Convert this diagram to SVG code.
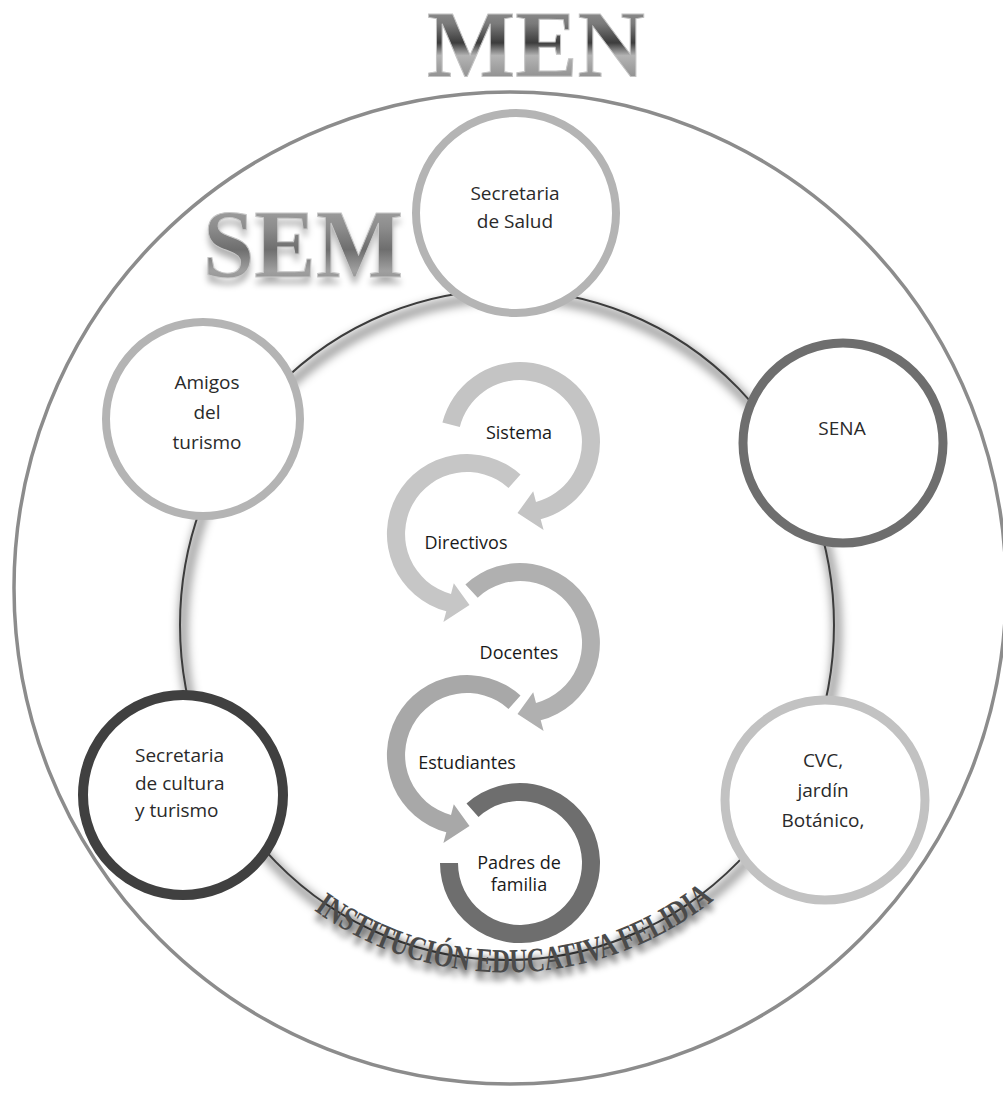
<svg xmlns="http://www.w3.org/2000/svg" width="1003" height="1093" viewBox="0 0 1003 1093">
<defs>
  <linearGradient id="metal" x1="0" y1="0" x2="0" y2="1">
    <stop offset="0" stop-color="#a8a8a8"/>
    <stop offset="0.3" stop-color="#7a7a7a"/>
    <stop offset="0.48" stop-color="#3c3c3c"/>
    <stop offset="0.6" stop-color="#b4b4b4"/>
    <stop offset="0.85" stop-color="#8a8a8a"/>
    <stop offset="1" stop-color="#6a6a6a"/>
  </linearGradient>
  <linearGradient id="metal2" x1="0" y1="0" x2="0" y2="1">
    <stop offset="0" stop-color="#b0b0b0"/>
    <stop offset="0.35" stop-color="#8c8c8c"/>
    <stop offset="0.55" stop-color="#6e6e6e"/>
    <stop offset="0.75" stop-color="#a0a0a0"/>
    <stop offset="1" stop-color="#7a7a7a"/>
  </linearGradient>
  <filter id="soft" x="-20%" y="-20%" width="140%" height="140%"><feGaussianBlur stdDeviation="5"/></filter>
  <filter id="soft3" x="-20%" y="-50%" width="140%" height="200%"><feGaussianBlur stdDeviation="3"/></filter>
  <path id="instPath" d="M 214.6 799.0 A 337 345 0 0 0 799.4 799.0"/>
</defs>
<style>
  .node circle { fill: #ffffff; }
  .lbl { font-family: 'Open Sans', 'Noto Sans', sans-serif; font-size: 19px; fill: #2a2a2a; text-anchor: middle; }
  .lbl.left { text-anchor: start; }
  .albl { font-family: 'Open Sans', 'Noto Sans', sans-serif; font-size: 18px; fill: #1a1a1a; text-anchor: middle; }
  .big { font-family: 'Liberation Serif', 'Times New Roman', serif; font-weight: bold; }
</style>
<rect width="1003" height="1093" fill="#ffffff"/>

<g id="men">
  <circle cx="510" cy="588" r="496" fill="none" stroke="#8c8c8c" stroke-width="3.5"/>
  <text class="big" x="536" y="77" font-size="95" text-anchor="middle" textLength="218" lengthAdjust="spacingAndGlyphs" fill="url(#metal)" stroke="#c4c4c4" stroke-width="1">MEN</text>
</g>

<g id="connectors">
  <ellipse cx="510" cy="632" rx="327" ry="335" fill="none" stroke="#000" stroke-opacity="0.4" stroke-width="9" filter="url(#soft)"/>
  <ellipse cx="507" cy="625" rx="327" ry="335" fill="none" stroke="#3c3c3c" stroke-width="2"/>
</g>

<g id="sem">
  <text class="big" x="203" y="284" font-size="98" textLength="200" lengthAdjust="spacingAndGlyphs" fill="#000" fill-opacity="0.3" filter="url(#soft3)">SEM</text>
  <text class="big" x="203" y="277" font-size="98" textLength="200" lengthAdjust="spacingAndGlyphs" fill="url(#metal2)" stroke="#c8c8c8" stroke-width="1">SEM</text>
</g>

<g id="institucion">
  <text class="big" font-size="34" fill="#000" fill-opacity="0.6" filter="url(#soft3)" transform="translate(0,8)"><textPath href="#instPath" startOffset="150" textLength="430" lengthAdjust="spacingAndGlyphs">INSTITUCIÓN EDUCATIVA FELIDIA</textPath></text>
  <text class="big" font-size="34" fill="#4a4a4a"><textPath href="#instPath" startOffset="150" textLength="430" lengthAdjust="spacingAndGlyphs">INSTITUCIÓN EDUCATIVA FELIDIA</textPath></text>
</g>

<g id="salud" class="node">
  <circle cx="516" cy="213" r="100" stroke="#b4b4b4" stroke-width="8"/>
  <text class="lbl" x="515" y="200">Secretaria</text>
  <text class="lbl" x="515" y="228">de Salud</text>
</g>

<g id="amigos" class="node">
  <circle cx="203" cy="419" r="97" stroke="#b4b4b4" stroke-width="8"/>
  <text class="lbl" x="207" y="389">Amigos</text>
  <text class="lbl" x="207" y="419">del</text>
  <text class="lbl" x="207" y="449">turismo</text>
</g>

<g id="sena" class="node">
  <circle cx="843" cy="443" r="100" stroke="#6e6e6e" stroke-width="9"/>
  <text class="lbl" x="842" y="435">SENA</text>
</g>

<g id="cultura" class="node">
  <circle cx="183" cy="795" r="100" stroke="#404040" stroke-width="10"/>
  <text class="lbl left" x="135" y="762">Secretaria</text>
  <text class="lbl left" x="135" y="790">de cultura</text>
  <text class="lbl left" x="135" y="817">y turismo</text>
</g>

<g id="cvc" class="node">
  <circle cx="825" cy="800" r="100" stroke="#c2c2c2" stroke-width="9"/>
  <text class="lbl" x="823" y="767">CVC,</text>
  <text class="lbl" x="823" y="797">jardín</text>
  <text class="lbl" x="823" y="827">Botánico,</text>
</g>

<g id="sistema">
  <path d="M 442.4 422.6 A 80 80 0 1 1 540.7 519.3 L 543.6 529.9 L 517.5 513.0 L 533.2 491.3 L 536.0 501.9 A 62 62 0 1 0 459.8 427.0 Z" fill="#c4c4c4"/>
  <text class="albl" x="519" y="438.5">Sistema</text>
</g>

<g id="directivos">
  <path d="M 520.5 474.6 A 80 80 0 1 0 446.3 611.3 L 443.4 621.9 L 469.5 605.0 L 453.8 583.3 L 451.0 593.9 A 62 62 0 1 1 508.5 487.9 Z" fill="#c6c6c6"/>
  <text class="albl" x="466" y="548.5">Directivos</text>
</g>

<g id="docentes">
  <path d="M 465.4 584.5 A 80 80 0 1 1 540.7 720.3 L 543.6 730.9 L 517.5 714.0 L 533.2 692.3 L 536.0 702.9 A 62 62 0 1 0 477.7 597.7 Z" fill="#b0b0b0"/>
  <text class="albl" x="519" y="658.5">Docentes</text>
</g>

<g id="estudiantes">
  <path d="M 520.5 695.6 A 80 80 0 1 0 446.3 832.3 L 443.4 842.9 L 469.5 826.0 L 453.8 804.3 L 451.0 814.9 A 62 62 0 1 1 508.5 708.9 Z" fill="#a8a8a8"/>
  <text class="albl" x="467" y="768.5">Estudiantes</text>
</g>

<g id="padres">
  <path d="M 466.5 803.6 A 80 80 0 1 1 440 863 L 458 863 A 62 62 0 1 0 478.5 816.9 Z" fill="#6e6e6e"/>
  <text class="albl" x="519" y="868.5">Padres de</text>
  <text class="albl" x="519" y="890.5">familia</text>
</g>
</svg>
